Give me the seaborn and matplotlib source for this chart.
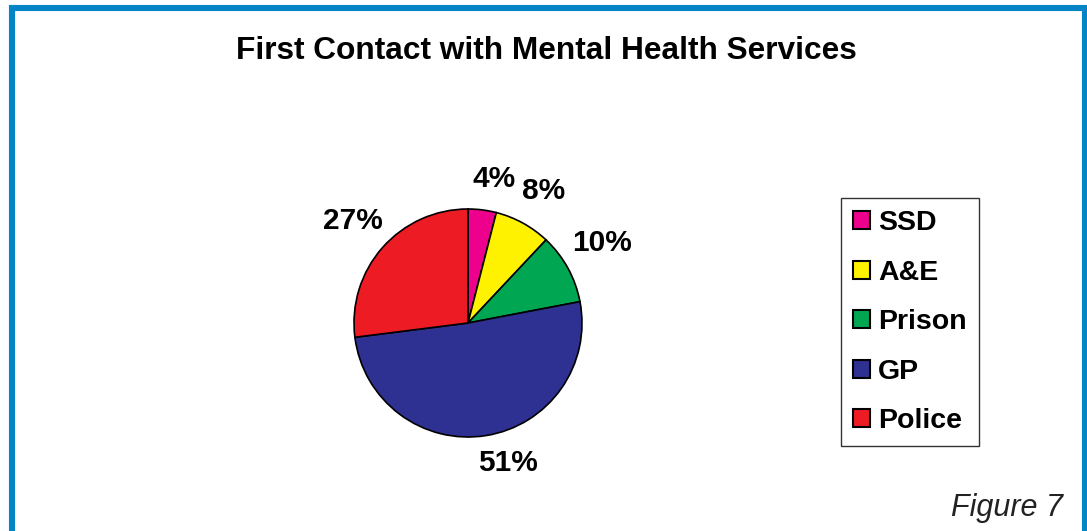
import matplotlib
matplotlib.use("Agg")
import matplotlib.pyplot as plt
from matplotlib.lines import Line2D
from matplotlib.patches import Patch
import seaborn as sns
import numpy as np

# Data
categories = ["SSD", "A&E", "Prison", "GP", "Police"]
shares = [4, 8, 10, 51, 27]
colors = ["#EC008C", "#FFF200", "#00A651", "#2E3192", "#ED1C24"]
title = "First Contact with Mental Health Services"
caption = "Figure 7"

sns.set_theme(style="white")
plt.rcParams["font.family"] = ["Liberation Sans", "DejaVu Sans"]
plt.rcParams["text.color"] = "black"

W, H = 1087, 531
fig = plt.figure(figsize=(W / 100, H / 100), dpi=100)
fig.patch.set_facecolor("white")

# Blue frame (open at the bottom)
def fx(px):
    return px / W

def fy(py):
    return 1 - py / H

frame = Line2D([fx(12), fx(12), fx(1084.5), fx(1084.5)],
               [fy(540), fy(7.5), fy(7.5), fy(540)],
               transform=fig.transFigure, color="#0284C7", lw=4.4,
               solid_joinstyle="miter", solid_capstyle="butt")
fig.add_artist(frame)

fig.text(fx(546), fy(51), title, ha="center", va="center",
         fontsize=22.8, fontweight="bold", color="black")

# Pie
cx, cy, r = 468, 323, 114
half = 1.5 * r
ax = fig.add_axes([fx(cx - half), fy(cy + half), 2 * half / W, 2 * half / H])
wedges, texts = ax.pie(shares, colors=colors, startangle=90, counterclock=False,
                       wedgeprops=dict(edgecolor="black", linewidth=1.2),
                       radius=1.0)
ax.set_xlim(-1.5, 1.5)
ax.set_ylim(-1.5, 1.5)
ax.set_aspect("equal")
ax.axis("off")

# Percentage labels outside each wedge (radial distance, angular nudge in degrees)
label_dist = [1.28, 1.33, 1.37, 1.28, 1.35]
label_turn = [-3, -1, 2, 7, 0]
for w, val, d, t in zip(wedges, shares, label_dist, label_turn):
    ang = np.deg2rad((w.theta1 + w.theta2) / 2 + t)
    ax.text(d * np.cos(ang), d * np.sin(ang), f"{val}%", ha="center", va="center",
            fontsize=21.5, fontweight="bold", color="black")

# Legend
handles = [Patch(facecolor=c, edgecolor="black", linewidth=1.5) for c in colors]
leg = fig.legend(handles, categories, loc="upper left",
                 bbox_to_anchor=(fx(841), fy(198)), bbox_transform=fig.transFigure,
                 borderaxespad=0, frameon=True, fancybox=False, shadow=False,
                 prop=dict(family="Liberation Sans", weight="bold", size=20.5),
                 handlelength=0.6, handleheight=0.6, handletextpad=0.28,
                 labelspacing=0.83, borderpad=0.42)
leg.get_frame().set_edgecolor("black")
leg.get_frame().set_linewidth(1.0)
for t in leg.get_texts():
    t.set_color("black")

fig.text(fx(1063), fy(516), caption, ha="right", va="baseline",
         fontsize=22, fontstyle="italic", color="#222222")

fig.savefig("out.png", dpi=100, facecolor="white")
